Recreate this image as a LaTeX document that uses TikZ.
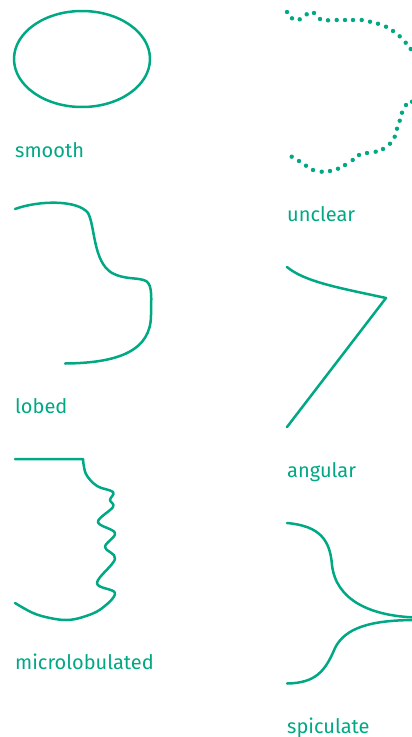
\documentclass[tikz,border=0pt]{standalone}
\usepackage{fontspec}
\setmainfont{Fira Sans}
\usepackage{xcolor}
\usepackage{tikz}
\definecolor{marginteal}{RGB}{0,168,132}
\tikzset{
  outline/.style={draw=marginteal, line width=2.5pt, line cap=round, line join=round},
  dotmark/.style={fill=marginteal},
  shapelbl/.style={anchor=base west, inner sep=0pt, text=marginteal, font=\fontsize{20}{24}\selectfont}
}

\begin{document}
\begin{tikzpicture}[x=1pt, y=-1pt]
    \useasboundingbox (0,0) rectangle (412,737);
    \clip (0,0) rectangle (412,737);
    % smooth
    \draw[outline] (82,59) ellipse [x radius=68, y radius=48];
    \node[shapelbl] (smooth) at (15,157) {smooth};
    % unclear: dotted margin, runs past the right edge
    \foreach \p in {(287,12),(292,18.3),(299.7,19.3),(306.7,14.3),(314,13),(320,19),(328,20.3),(336.7,20),(345,20),(353,20),(361.7,20),(370,21.7),(378,23.7),(386,26.7),(393,31),(399.7,36.3),(405.7,42.7),(410.7,49),
                    (412,101.7),(406,105),(402,112.7),(399.7,120.7),(397,128.7),(394.7,136.7),(390,143.7),(383,149),(375.7,151.7),(367,153),(359,155),(352.7,160),(345,165),(338,168.7),(330,171),(321.7,171.7),(313,170),(306,165.7),(299,161),(291.7,156.7)}
        \fill[dotmark] \p circle (2.2pt);
    \node[shapelbl] (unclear) at (287,221) {unclear};
    % lobed
    \draw[outline] (15,209) .. controls (40,200) and (78,200) .. (88,213)
        .. controls (95,225) and (93,262) .. (112,273)
        .. controls (125,280) and (138,277) .. (146,281)
        .. controls (153,285) and (151,300) .. (151,315)
        .. controls (151,350) and (120,363) .. (65,363.5);
    \node[shapelbl] (lobed) at (15,413) {lobed};
    % angular
    \coordinate (corner) at (386,298);
    \draw[outline] (287,267) .. controls (305,282) and (340,288) .. (corner) -- (287,427);
    \node[shapelbl] (angular) at (287,477) {angular};
    % microlobulated
    \draw[outline] (15,459) -- (83,459) -- plot[smooth, tension=0.6] coordinates {(83,459) (86,474) (97,486) (113,492) (110,500) (113,507) (98,522) (115,533) (105,547) (115,559) (97,583) (115,593) (101,609) (83,617) (67,620) (50,618) (33,613) (15,603)};
    \node[shapelbl] (microlobulated) at (15,669) {microlobulated};
    % spiculate: two arms meeting past the right edge
    \draw[outline] (287,523) .. controls (320,526) and (330,540) .. (332,565)
        .. controls (336,600) and (370,616) .. (416,617.5);
    \draw[outline] (416,620) .. controls (370,620) and (345,628) .. (335,648)
        .. controls (325,672) and (315,683) .. (287,683.5);
    \node[shapelbl] (spiculate) at (287,733) {spiculate};
\end{tikzpicture}
\end{document}
